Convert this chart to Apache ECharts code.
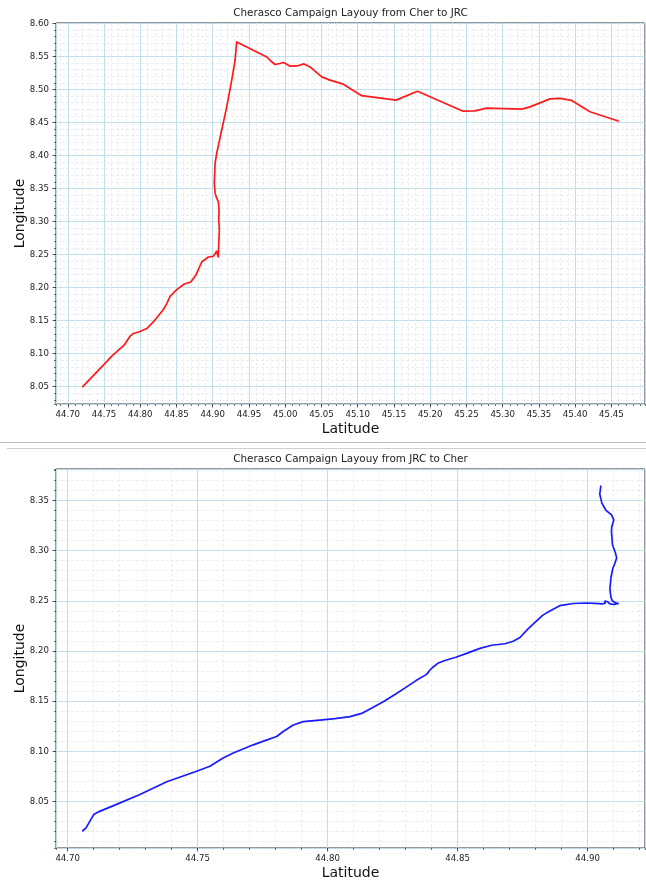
<!DOCTYPE html>
<html><head><meta charset="utf-8">
<script src="https://cdn.jsdelivr.net/npm/echarts@6/dist/echarts.min.js"></script>
<style>html,body{margin:0;padding:0;background:#fff}#c{width:646px;height:881px}</style>
</head><body><div id="c"></div>
<script>
const chartTitles = ['Cherasco Campaign Layouy from Cher to JRC', 'Cherasco Campaign Layouy from JRC to Cher'];
const xAxisName = 'Latitude';
const yAxisName = 'Longitude';

// Route 1: Cher -> JRC (red)
const cherToJrcLat = [44.7207,44.7491,44.7607,44.7777,44.7859,44.7905,44.7988,44.8090,44.8190,44.8319,44.8366,44.8411,44.8503,44.8608,44.8697,44.8770,44.8848,44.8939,44.9008,44.9032,44.9052,44.9069,44.9077,44.9083,44.9091,44.9083,44.9087,44.9077,44.9055,44.9032,44.9022,44.9032,44.9055,44.9124,44.9193,44.9262,44.9308,44.9331,44.9339,44.9353,44.9745,44.9790,44.9859,44.9928,44.9974,45.0021,45.0066,45.0163,45.0259,45.0342,45.0503,45.0618,45.0801,45.1055,45.1528,45.1825,45.2446,45.2618,45.2779,45.3262,45.3377,45.3652,45.3790,45.3952,45.4204,45.4594];
const cherToJrcLon = [8.0500,8.0826,8.0962,8.1128,8.1264,8.1305,8.1331,8.1380,8.1491,8.1667,8.1758,8.1868,8.1969,8.2055,8.2085,8.2196,8.2387,8.2463,8.2472,8.2472,8.2550,8.2550,8.2463,8.2674,8.2875,8.3026,8.3177,8.3302,8.3354,8.3429,8.3580,8.3882,8.4033,8.4385,8.4736,8.5140,8.5441,8.5718,8.5743,8.5718,8.5491,8.5441,8.5377,8.5392,8.5407,8.5381,8.5351,8.5355,8.5386,8.5340,8.5189,8.5140,8.5079,8.4905,8.4838,8.4973,8.4672,8.4676,8.4717,8.4702,8.4736,8.4857,8.4863,8.4833,8.4661,8.4521];

// Route 2: JRC -> Cher (blue)
const jrcToCherLat = [44.9051,44.9047,44.9055,44.9070,44.9092,44.9101,44.9093,44.9092,44.9096,44.9107,44.9112,44.9105,44.9097,44.9090,44.9086,44.9090,44.9095,44.9107,44.9118,44.9103,44.9086,44.9078,44.9072,44.9067,44.9068,44.9059,44.9028,44.8996,44.8945,44.8893,44.8855,44.8828,44.8804,44.8770,44.8740,44.8714,44.8682,44.8631,44.8586,44.8535,44.8493,44.8451,44.8424,44.8405,44.8393,44.8381,44.8340,44.8304,44.8259,44.8214,44.8170,44.8131,44.8086,44.8028,44.7970,44.7906,44.7868,44.7829,44.7804,44.7759,44.7714,44.7637,44.7598,44.7547,44.7496,44.7381,44.7278,44.7188,44.7118,44.7101,44.7086,44.7070,44.7058];
const jrcToCherLon = [8.3641,8.3562,8.3473,8.3404,8.3355,8.3305,8.3236,8.3187,8.3058,8.2979,8.2927,8.2871,8.2821,8.2732,8.2614,8.2535,8.2500,8.2480,8.2473,8.2463,8.2469,8.2490,8.2507,8.2497,8.2477,8.2470,8.2475,8.2478,8.2473,8.2451,8.2399,8.2357,8.2300,8.2218,8.2134,8.2097,8.2072,8.2057,8.2026,8.1976,8.1937,8.1905,8.1877,8.1838,8.1808,8.1767,8.1705,8.1642,8.1566,8.1494,8.1433,8.1378,8.1346,8.1326,8.1312,8.1296,8.1263,8.1198,8.1148,8.1107,8.1065,8.0983,8.0934,8.0852,8.0802,8.0697,8.0571,8.0472,8.0397,8.0373,8.0308,8.0235,8.0209];

const majorStep = 0.05;
const minorStep = 0.01;

const FONT = 'DejaVu Sans';
function padded(arr) {
  const mn = Math.min.apply(null, arr), mx = Math.max.apply(null, arr), r = mx - mn;
  return [mn - 0.05 * r, mx + 0.05 * r];
}
function zip(a, b) { return a.map((v, i) => [v, b[i]]); }

const panels = [
  {lat: cherToJrcLat, lon: cherToJrcLon, color: '#ff1a1a', grid: {left: 56, top: 23, width: 589, height: 381}},
  {lat: jrcToCherLat, lon: jrcToCherLon, color: '#1a1aff', grid: {left: 56, top: 469, width: 589, height: 382}}
];

const grids = [], xAxes = [], yAxes = [], series = [], graphics = [];
panels.forEach((p, gi) => {
  grids.push(Object.assign({show: true, borderColor: '#333', borderWidth: 1, backgroundColor: 'transparent', containLabel: false}, p.grid));
  const xe = padded(p.lat), ye = padded(p.lon);
  ['x', 'y'].forEach(dim => {
    const ext = dim === 'x' ? xe : ye;
    const pos = dim === 'x' ? 'bottom' : 'left';
    const minor = {
      type: 'value', gridIndex: gi, position: pos, min: ext[0], max: ext[1],
      minInterval: minorStep, maxInterval: minorStep, splitNumber: 80,
      axisLine: {show: false},
      axisTick: {show: true, length: 2, lineStyle: {color: '#333', width: 0.7}},
      axisLabel: {show: false},
      splitLine: {show: true, lineStyle: {color: '#e6eaec', width: 0.8, type: [3, 2]}}
    };
    const major = {
      type: 'value', gridIndex: gi, position: pos, min: ext[0], max: ext[1],
      minInterval: majorStep, maxInterval: majorStep, splitNumber: 16,
      axisLine: {show: false},
      axisTick: {show: true, length: 3.5, lineStyle: {color: '#333', width: 0.8}},
      axisLabel: {show: true, color: '#222', fontSize: 8.6, fontFamily: FONT, margin: dim === 'x' ? 6 : 7,
        showMinLabel: false, showMaxLabel: false, formatter: v => v.toFixed(2)},
      splitLine: {show: true, lineStyle: {color: '#bddde8', width: 0.9}},
      name: dim === 'x' ? xAxisName : yAxisName,
      nameLocation: 'middle',
      nameMoveOverlap: false,
      nameGap: dim === 'x' ? 18 : 29,
      nameTextStyle: {fontSize: 14, fontFamily: FONT, color: '#111'}
    };
    (dim === 'x' ? xAxes : yAxes).push(minor, major);
  });
  series.push({
    type: 'line', xAxisIndex: gi * 2 + 1, yAxisIndex: gi * 2 + 1,
    data: zip(p.lat, p.lon), showSymbol: false, symbol: 'none', smooth: false,
    lineStyle: {color: p.color, width: 1.7, join: 'round', cap: 'round'}, z: 5
  });
  graphics.push({
    type: 'text', x: p.grid.left + p.grid.width / 2, y: p.grid.top - 10,
    style: {text: chartTitles[gi], fontSize: 10.4, fontFamily: FONT, fill: '#222', textAlign: 'center', textVerticalAlign: 'middle'}
  });
});
graphics.push({type: 'line', shape: {x1: 0, y1: 442.5, x2: 646, y2: 442.5}, style: {stroke: '#bdbdbd', lineWidth: 1}});
graphics.push({type: 'line', shape: {x1: 7, y1: 448.5, x2: 646, y2: 448.5}, style: {stroke: '#cfcfcf', lineWidth: 1}});

const chart = echarts.init(document.getElementById('c'), null, {renderer: 'canvas'});
chart.setOption({
  animation: false,
  backgroundColor: '#fff',
  grid: grids, xAxis: xAxes, yAxis: yAxes, series: series, graphic: graphics
});
</script></body></html>
